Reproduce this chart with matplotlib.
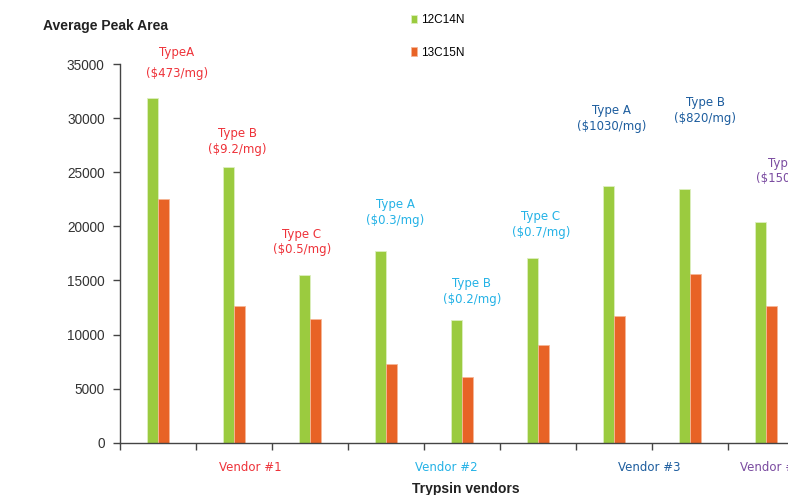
import numpy as np
import matplotlib
matplotlib.use("Agg")
import matplotlib.pyplot as plt

plt.rcParams['font.family'] = ['Liberation Sans', 'DejaVu Sans']

# data
series_names = ['12C14N', '13C15N']
light = [31850, 25500, 15500, 17750, 11300, 17100, 23750, 23450, 20400]
heavy = [22500, 12650, 11400, 7300, 6050, 9050, 11700, 15600, 12650]
type_names = ['TypeA', 'Type B', 'Type C', 'Type A', 'Type B', 'Type C',
              'Type A', 'Type B', 'Type A']
prices = ['($473/mg)', '($9.2/mg)', '($0.5/mg)', '($0.3/mg)', '($0.2/mg)',
          '($0.7/mg)', '($1030/mg)', '($820/mg)', '($150/mg)']
vendor_of = [0, 0, 0, 1, 1, 1, 2, 2, 3]
vendors = ['Vendor #1', 'Vendor #2', 'Vendor #3', 'Vendor #4']

# layout
green = '#9BCB3F'
orange = '#E86326'
vendor_colors = ['#EE3239', '#24B2E6', '#1D5D9E', '#7A4BA0']
# label positions (x in category units, y for the two text lines)
label_pos = [(0.25, 36100, 34080), (1.04, 28620, 27140), (1.895, 19200, 17810),
             (3.12, 21970, 20580), (4.13, 14670, 13280), (5.04, 20860, 19470),
             (5.97, 30660, 29180), (7.20, 31400, 29920), (8.28, 25850, 24460)]
vendor_x = [1.22, 3.79, 6.47, 8.07]

fig = plt.figure(figsize=(7.88, 4.95), dpi=100)
ax = fig.add_axes([120 / 788, 52.3 / 495, 684 / 788, 378.7 / 495])

x = np.arange(len(light))
w = 0.148
ax.bar(x - w / 2, light, width=w, color=green, edgecolor='#DDEFC0', linewidth=0.6,
       label=series_names[0])
ax.bar(x + w / 2, heavy, width=w, color=orange, edgecolor='#F6B796', linewidth=0.6,
       label=series_names[1])

ax.set_xlim(-0.5, 8.5)
ax.set_ylim(0, 35000)
ax.set_yticks(np.arange(0, 35001, 5000))
ax.set_xticks(np.arange(-0.5, 8.6, 1.0))
ax.set_xticklabels([])
for s in ['top', 'right']:
    ax.spines[s].set_visible(False)
for s in ['left', 'bottom']:
    ax.spines[s].set_color('#444444')
    ax.spines[s].set_linewidth(1.0)
ax.tick_params(axis='y', direction='out', length=5, width=1, color='#444444',
               labelsize=9.8, labelcolor='#333333', pad=6)
ax.tick_params(axis='x', direction='out', length=5, width=1, color='#444444')

for i in range(len(light)):
    c = vendor_colors[vendor_of[i]]
    px, y1, y2 = label_pos[i]
    ax.text(px, y1, type_names[i], ha='center', va='center', color=c,
            fontsize=8.5, family='DejaVu Sans', clip_on=False)
    ax.text(px, y2, prices[i], ha='center', va='center', color=c,
            fontsize=8.5, family='DejaVu Sans', clip_on=False)

for j, v in enumerate(vendors):
    ax.text(vendor_x[j], -2250, v, ha='center', va='center',
            color=vendor_colors[j], fontsize=8.5, family='DejaVu Sans',
            clip_on=False)

fig.text(466 / 788, 2 / 495, 'Trypsin vendors', ha='center', va='baseline',
         fontsize=10, fontweight='bold', color='#222222')
fig.text(43 / 788, 469 / 495, 'Average Peak Area', ha='left', va='center',
         fontsize=10, fontweight='bold', color='#222222')

fig.legend(loc='upper left', bbox_to_anchor=(411 / 788, 481 / 495),
           frameon=False, fontsize=8.5, handlelength=0.55, handleheight=0.7,
           handletextpad=0.3, labelspacing=1.75, borderpad=0, borderaxespad=0)

plt.savefig('out.png', dpi=100)
